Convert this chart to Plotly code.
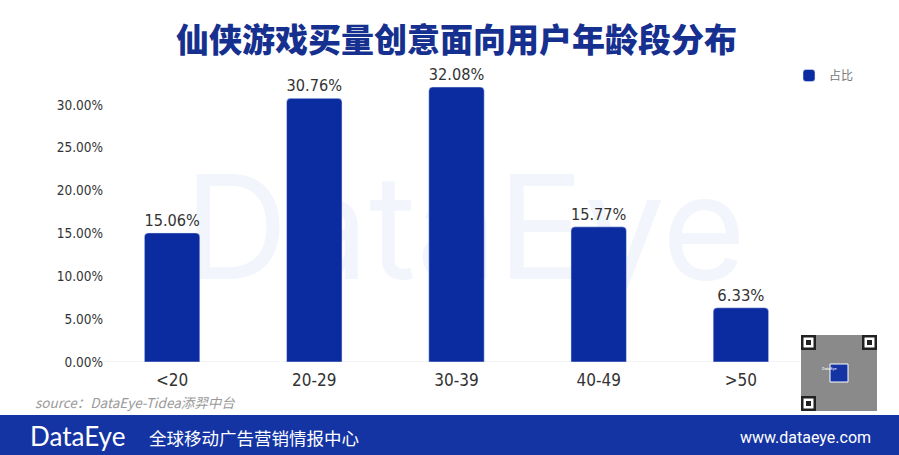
import plotly.graph_objects as go

# data
age_groups = ["<20", "20-29", "30-39", "40-49", ">50"]
share = [0.1506, 0.3076, 0.3208, 0.1577, 0.0633]
y_ticks = [0, 0.05, 0.10, 0.15, 0.20, 0.25, 0.30]

W, H = 899, 455
L, R, T, B = 101, 87, 62, 93
BAR = "#0b2ba1"
NAVY = "#16308f"
NUM_FONT = "Liberation Sans Narrow, DejaVu Sans Condensed, Roboto"


def px_x(p):
    return (p - L) / (W - L - R)


def px_y(p):
    return (H - B - p) / (H - T - B)


fig = go.Figure()

fig.add_trace(
    go.Bar(
        x=age_groups,
        y=share,
        name="占比",
        marker=dict(color=BAR, cornerradius=4),
        width=0.39,
        text=[f"{v * 100:.2f}%" for v in share],
        textposition="outside",
        textfont=dict(family=NUM_FONT, size=16.5, color="#333333"),
        cliponaxis=False,
    )
)

fig.update_layout(
    width=W,
    height=H,
    margin=dict(l=L, r=R, t=T, b=B),
    paper_bgcolor="white",
    plot_bgcolor="rgba(0,0,0,0)",
    showlegend=True,
    legend=dict(
        x=px_x(789), y=px_y(61), xanchor="left", yanchor="top",
        font=dict(family="Noto Sans CJK SC", size=12, color="#777777"),
        itemwidth=30,
    ),
    title=dict(
        text="仙侠游戏买量创意面向用户年龄段分布",
        x=0.5, xref="paper", y=1 - 40 / H, yanchor="middle",
        font=dict(family="Noto Sans CJK SC", size=33, color=NAVY, weight=900),
    ),
)

fig.update_xaxes(
    showgrid=False, showline=False, ticks="",
    tickfont=dict(family=NUM_FONT, size=17, color="#333333"),
    ticklabelstandoff=6,
)
fig.update_yaxes(
    range=[0, 0.35], showgrid=False, zeroline=False, showline=False,
    tickvals=y_ticks, tickformat=".2%", ticks="", ticklen=0,
    tickfont=dict(family=NUM_FONT, size=13.5, color="#333333"),
    ticklabelstandoff=-3,
)

# faint baseline
fig.add_shape(type="line", xref="paper", yref="y", x0=px_x(96), x1=px_x(800),
              y0=0, y1=0, line=dict(color="#e6e8ee", width=1), layer="below")

# watermark, kept under the bars
fig.add_shape(
    type="rect", xref="paper", yref="paper", layer="below",
    x0=px_x(190), x1=px_x(740), y0=px_y(160), y1=px_y(285),
    line=dict(width=0), fillcolor="rgba(0,0,0,0)",
    label=dict(text="DataEye", textposition="middle center",
               font=dict(family="Inter", size=144, color="#f2f5fc")),
)

# source note
fig.add_annotation(
    text="<i>source：DataEye-Tidea添羿中台</i>", xref="paper", yref="paper",
    x=px_x(33), y=px_y(402), xanchor="left", yanchor="middle", showarrow=False,
    font=dict(family="Noto Sans CJK SC", size=13.5, color="#9a9a9a"),
)

# footer band
fig.add_shape(type="rect", xref="paper", yref="paper",
              x0=px_x(0), x1=px_x(W), y0=px_y(415), y1=px_y(H + 2),
              fillcolor="#1434a4", line=dict(width=0))
fig.add_annotation(
    text="DataEye", xref="paper", yref="paper", x=px_x(28), y=px_y(436),
    xanchor="left", yanchor="middle", showarrow=False,
    font=dict(family="Lato", size=26, color="white"),
)
fig.add_annotation(
    text="全球移动广告营销情报中心", xref="paper", yref="paper", x=px_x(147), y=px_y(437),
    xanchor="left", yanchor="middle", showarrow=False,
    font=dict(family="Noto Sans CJK SC", size=17.5, color="white"),
)
fig.add_annotation(
    text="www.dataeye.com", xref="paper", yref="paper", x=px_x(873), y=px_y(437),
    xanchor="right", yanchor="middle", showarrow=False,
    font=dict(family="Roboto", size=16, color="white"),
)

# QR code block
qx0, qx1, qy0, qy1 = 801, 877, 335, 411
fig.add_shape(type="rect", xref="paper", yref="paper",
              x0=px_x(qx0), x1=px_x(qx1), y0=px_y(qy0), y1=px_y(qy1),
              fillcolor="#8a8a8a", line=dict(width=0))
for fx, fy in [(qx0, qy0), (qx1 - 15, qy0), (qx0, qy1 - 15)]:
    fig.add_shape(type="rect", xref="paper", yref="paper",
                  x0=px_x(fx), x1=px_x(fx + 15), y0=px_y(fy), y1=px_y(fy + 15),
                  fillcolor="#222222", line=dict(width=0))
    fig.add_shape(type="rect", xref="paper", yref="paper",
                  x0=px_x(fx + 2.5), x1=px_x(fx + 12.5), y0=px_y(fy + 2.5), y1=px_y(fy + 12.5),
                  fillcolor="white", line=dict(width=0))
    fig.add_shape(type="rect", xref="paper", yref="paper",
                  x0=px_x(fx + 5), x1=px_x(fx + 10), y0=px_y(fy + 5), y1=px_y(fy + 10),
                  fillcolor="#222222", line=dict(width=0))
fig.add_shape(type="rect", xref="paper", yref="paper",
              x0=px_x(830), x1=px_x(848), y0=px_y(364), y1=px_y(382),
              fillcolor="#1434a4", line=dict(color="white", width=1))
fig.add_annotation(
    text="DataEye", xref="paper", yref="paper", x=px_x(839), y=px_y(373),
    showarrow=False, font=dict(family="Roboto", size=4, color="white"),
)

# the page body has a default 8px margin; drop it so the figure fills the window
fig.write_html(
    "out.html",
    config={"displayModeBar": False},
    post_script="document.body.style.margin='0';",
)
